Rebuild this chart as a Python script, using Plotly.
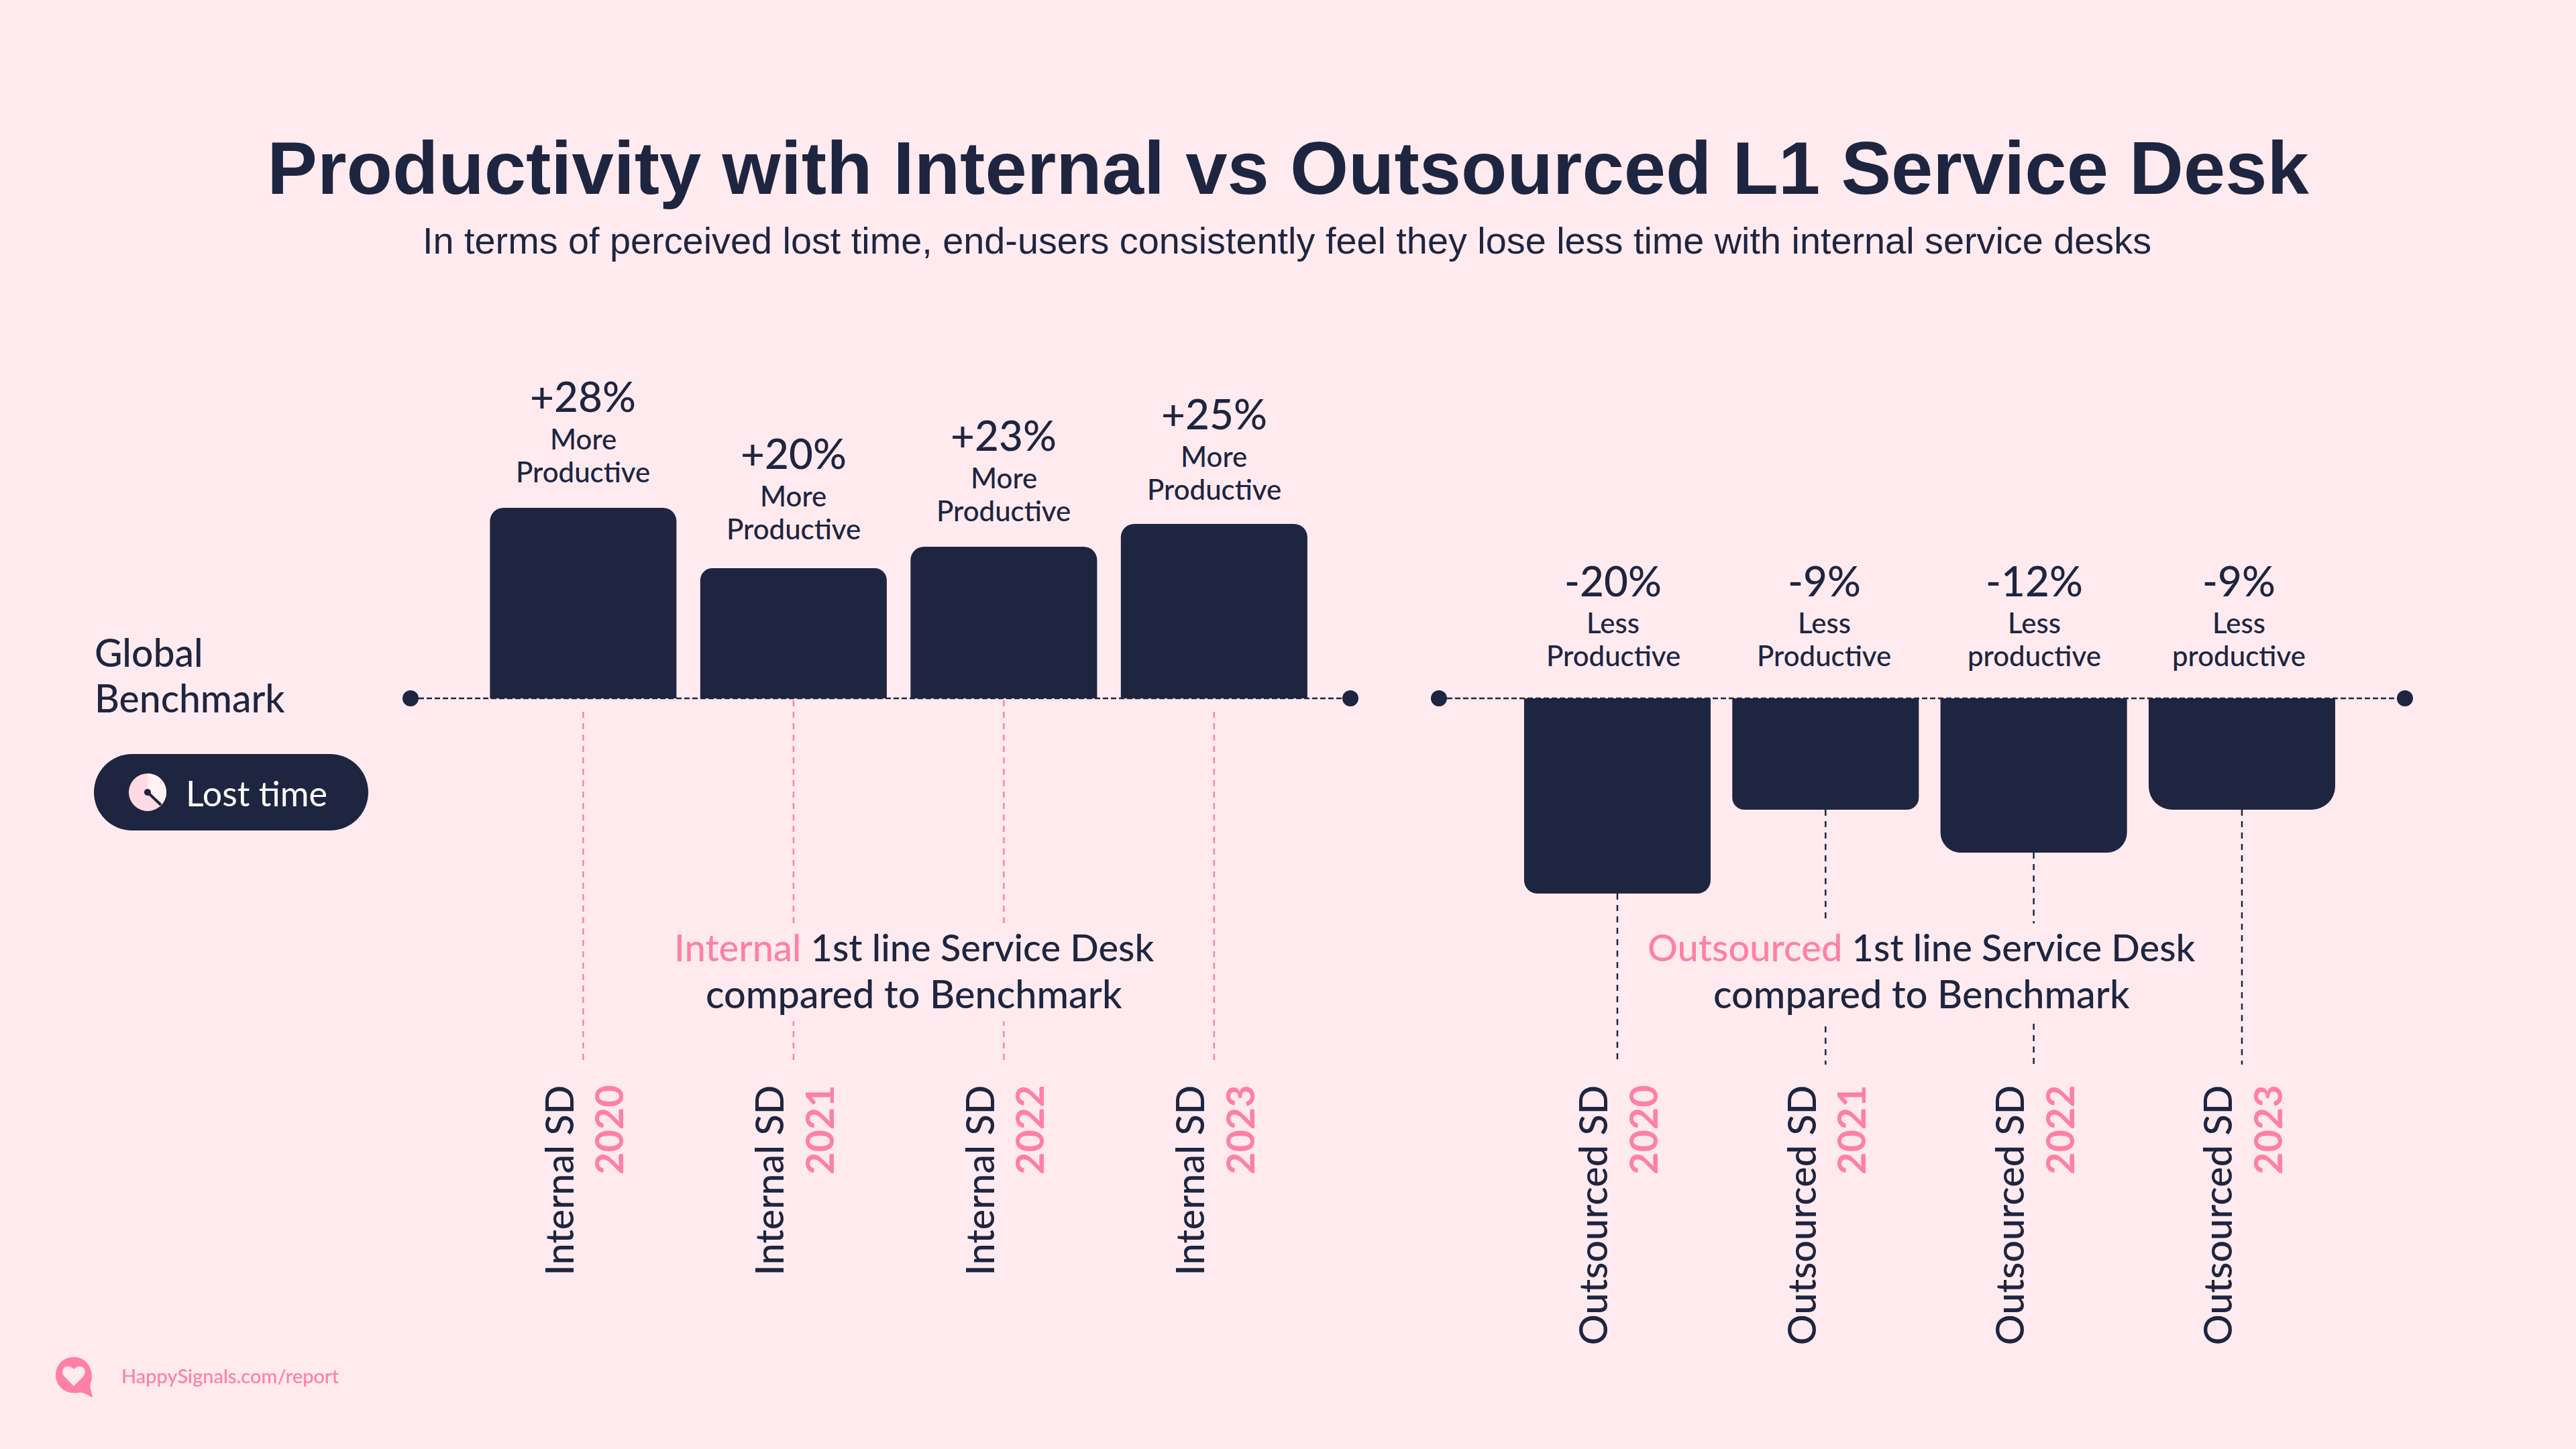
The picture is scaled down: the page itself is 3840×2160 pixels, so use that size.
import numpy as np
import plotly.graph_objects as go

W, H = 3840, 2160
BG = "#FFEBEF"
DARK = "#1E2540"
PINK = "#FF80A6"
FONT = "Lato"
HEAD = "Liberation Sans"

years = [2020, 2021, 2022, 2023]
internal_bars = [28.4, 19.4, 22.6, 26.0]
internal_labels = ["+28%", "+20%", "+23%", "+25%"]
internal_words = [("More", "Productive")] * 4
outsourced_bars = [-29.1, -16.6, -23.0, -16.6]
outsourced_labels = ["-20%", "-9%", "-12%", "-9%"]
outsourced_words = [("Less", "Productive"), ("Less", "Productive"), ("Less", "productive"), ("Less", "productive")]
internal_ticks = [f"Internal SD<br><span style='color:{PINK}'><b>{y}</b></span>" for y in years]
outsourced_ticks = [f"Outsourced SD<br><span style='color:{PINK}'><b>{y}</b></span>" for y in years]

y_min, y_max = -54.6, 50.0
left_range = [2019.179, 2023.648]
right_range = [2019.143, 2023.783]


def px(x):
    return x / W


def py(y):
    return 1 - y / H


fig = go.Figure()


def panel(xname, yname, bars, width, drop_start, line_color, rng, radii):
    fig.add_trace(go.Scatter(
        x=[v for y in years for v in (y, y, None)],
        y=[v for s in drop_start for v in (s, y_min, None)],
        mode="lines", line=dict(color=line_color, width=2.5, dash="9px 8px"),
        xaxis=xname, yaxis=yname, hoverinfo="skip", showlegend=False))
    for yr, b, rad in zip(years, bars, radii):
        fig.add_trace(go.Bar(
            x=[yr], y=[b], width=width, marker=dict(color=DARK, cornerradius=rad, line_width=0),
            xaxis=xname, yaxis=yname, showlegend=False))
    fig.add_trace(go.Scatter(
        x=rng, y=[0, 0], mode="lines+markers", cliponaxis=False,
        line=dict(color=DARK, width=2.5, dash="8px 4px"),
        marker=dict(color=DARK, size=24),
        xaxis=xname, yaxis=yname, hoverinfo="skip", showlegend=False))


panel("x", "y", internal_bars, 0.887, [-2.0, -0.3, -0.3, -2.0], PINK, left_range, [20, 18, 20, 20])
panel("x2", "y2", outsourced_bars, 0.896, outsourced_bars, DARK, right_range, [20, 18, 30, 35])

axis_common = dict(showgrid=False, zeroline=False, showline=False, ticks="",
                   tickangle=-90, tickvals=years,
                   tickfont=dict(family=FONT, size=57.5, color=DARK, weight=500),
                   ticklabelstandoff=18, ticklabelshift=4)
yaxis_common = dict(visible=False, range=[y_min, y_max],
                    domain=[py(1587), py(541)])

annotations = []


def note(text, x, y, size, color=DARK, xref="paper", yref="paper", weight=500, **kw):
    annotations.append(dict(text=text, x=x, y=y, xref=xref, yref=yref, showarrow=False,
                            font=dict(family=kw.pop("family", FONT), size=size, color=color, weight=weight),
                            xanchor=kw.pop("xanchor", "center"), yanchor=kw.pop("yanchor", "middle"), **kw))


for yr, v, lab, (w1, w2), dy in zip(years, internal_bars, internal_labels, internal_words, [0, 5, 0, -2]):
    note(lab, yr, v, 62, xref="x", yref="y", yshift=167 + dy)
    note(w1, yr, v, 42, xref="x", yref="y", yshift=103 + dy)
    note(w2, yr, v, 42, xref="x", yref="y", yshift=54 + dy)
for yr, lab, (w1, w2), dx in zip(years, outsourced_labels, outsourced_words, [-6, -2, 1, -5]):
    note(lab, yr, 0, 62, xref="x2", yref="y2", yshift=176, xshift=dx)
    note(w1, yr, 0, 42, xref="x2", yref="y2", yshift=113, xshift=dx)
    note(w2, yr, 0, 42, xref="x2", yref="y2", yshift=64, xshift=dx)

for center, word in ((1362, "Internal"), (2864, "Outsourced")):
    note(f"<span style='color:{PINK}'>{word}</span> 1st line Service Desk",
         px(center), py(1411), 56, bgcolor=BG)
    note("compared to Benchmark", px(center), py(1480), 57.6, bgcolor=BG, borderpad=7)
note("Global", px(139), py(972), 57, xanchor="left")
note("Benchmark", px(139), py(1040), 57, xanchor="left")
note("Lost time", px(275), py(1182), 52, color="#FFFFFF", xanchor="left", weight=400)
note("HappySignals.com/report", px(179), py(2050), 29, color=PINK, xanchor="left")
note("In terms of perceived lost time, end-users consistently feel they lose less time with internal service desks",
     px(1918), py(358), 55.8, family=HEAD, weight=400)


def bez_round_rect(x0, y0, x1, y1, r):
    k = 0.5523 * r
    return (f"M{px(x0 + r)},{py(y0)} L{px(x1 - r)},{py(y0)} "
            f"C{px(x1 - r + k)},{py(y0)} {px(x1)},{py(y0 + r - k)} {px(x1)},{py(y0 + r)} "
            f"L{px(x1)},{py(y1 - r)} "
            f"C{px(x1)},{py(y1 - r + k)} {px(x1 - r + k)},{py(y1)} {px(x1 - r)},{py(y1)} "
            f"L{px(x0 + r)},{py(y1)} "
            f"C{px(x0 + r - k)},{py(y1)} {px(x0)},{py(y1 - r + k)} {px(x0)},{py(y1 - r)} "
            f"L{px(x0)},{py(y0 + r)} "
            f"C{px(x0)},{py(y0 + r - k)} {px(x0 + r - k)},{py(y0)} {px(x0 + r)},{py(y0)} Z")


def poly(points):
    return "M" + " L".join(f"{px(a)},{py(b)}" for a, b in points) + " Z"


cx, cy, r = 220, 1181, 28
sector = [(cx, cy)] + [(cx + r * np.sin(t), cy - r * np.cos(t)) for t in np.linspace(0, np.radians(140), 24)]
disc = [(cx + r * np.sin(t), cy - r * np.cos(t)) for t in np.linspace(0, 2 * np.pi, 60)]
hub = [(cx + 5 * np.sin(t), cy - 5 * np.cos(t)) for t in np.linspace(0, 2 * np.pi, 24)]

bx, by = 110, 2050
bubble = (f"M{px(bx)},{py(by - 27)} "
          f"C{px(bx + 18)},{py(by - 27)} {px(bx + 27)},{py(by - 12)} {px(bx + 27)},{py(by + 2)} "
          f"C{px(bx + 27)},{py(by + 10)} {px(bx + 23)},{py(by + 14)} {px(bx + 25)},{py(by + 20)} "
          f"L{px(bx + 28)},{py(by + 33)} "
          f"C{px(bx + 22)},{py(by + 31)} {px(bx + 16)},{py(by + 25)} {px(bx + 8)},{py(by + 26)} "
          f"C{px(bx - 12)},{py(by + 30)} {px(bx - 27)},{py(by + 16)} {px(bx - 27)},{py(by)} "
          f"C{px(bx - 27)},{py(by - 14)} {px(bx - 17)},{py(by - 27)} {px(bx)},{py(by - 27)} Z")
heart = (f"M{px(bx)},{py(by + 16)} L{px(bx - 13)},{py(by + 3)} "
         f"C{px(bx - 20)},{py(by - 4)} {px(bx - 17)},{py(by - 13)} {px(bx - 9)},{py(by - 13)} "
         f"C{px(bx - 5)},{py(by - 13)} {px(bx - 2)},{py(by - 11)} {px(bx)},{py(by - 9)} "
         f"C{px(bx + 2)},{py(by - 11)} {px(bx + 5)},{py(by - 13)} {px(bx + 9)},{py(by - 13)} "
         f"C{px(bx + 17)},{py(by - 13)} {px(bx + 20)},{py(by - 4)} {px(bx + 13)},{py(by + 3)} Z")

paper_shape = dict(type="path", xref="paper", yref="paper", line_width=0, layer="above")
shapes = [
    dict(paper_shape, path=bez_round_rect(140, 1124, 549, 1238, 57), fillcolor=DARK),
    dict(paper_shape, path=poly(disc), fillcolor="#FFD9E3"),
    dict(paper_shape, path=poly(sector), fillcolor="#FFF1F4"),
    dict(type="line", xref="paper", yref="paper", x0=px(cx), y0=py(cy), x1=px(240), y1=py(1200),
         line=dict(color=DARK, width=4), layer="above"),
    dict(paper_shape, path=poly(hub), fillcolor=DARK),
    dict(paper_shape, path=bubble, fillcolor=PINK),
    dict(paper_shape, path=heart, fillcolor=BG),
]

fig.update_layout(
    width=W, height=H, margin=dict(l=0, r=0, t=0, b=0),
    paper_bgcolor=BG, plot_bgcolor=BG, barmode="overlay", showlegend=False,
    title=dict(text="<b>Productivity with Internal vs Outsourced L1 Service Desk</b>",
               x=0.5, xanchor="center", y=py(250), yanchor="middle",
               font=dict(family=HEAD, size=112, color=DARK)),
    xaxis=dict(axis_common, domain=[px(612), px(2013)], range=left_range, ticktext=internal_ticks, anchor="y"),
    xaxis2=dict(axis_common, domain=[px(2145), px(3585)], range=right_range, ticktext=outsourced_ticks, anchor="y2"),
    yaxis=dict(yaxis_common, anchor="x"),
    yaxis2=dict(yaxis_common, anchor="x2"),
    annotations=annotations, shapes=shapes,
)

fig.write_html("out.html", post_script="document.body.style.margin='0';",
               config=dict(displayModeBar=False))
